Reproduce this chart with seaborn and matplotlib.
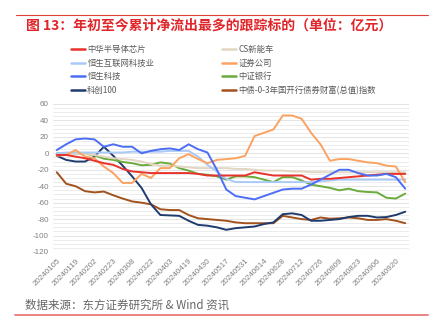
import numpy as np
import pandas as pd
import matplotlib
matplotlib.use("Agg")
import matplotlib.pyplot as plt
from matplotlib.lines import Line2D
import seaborn as sns

dates = ["20240105","20240112","20240119","20240126","20240202","20240208","20240223","20240301",
         "20240308","20240315","20240322","20240329","20240403","20240412","20240419","20240426",
         "20240430","20240510","20240517","20240524","20240531","20240607","20240614","20240621",
         "20240628","20240705","20240712","20240719","20240726","20240802","20240809","20240816",
         "20240823","20240830","20240906","20240913","20240920","20240927"]

names = ["中华半导体芯片", "恒生互联网科技业", "恒生科技", "科创100",
         "CS新能车", "证券公司", "中证银行", "中债-0-3年国开行债券财富(总值)指数"]

semi = [-2,-2,-4,-6,-9,-12,-14,-19,-22,-23,-24,-24,-24,-24,-24,-25,-27,
        -27,-27,-27,-27,-23,-25,-27,-27,-27,-27,-32,-31,-31,-30,-29,-28,-27,-26,-25,-25,-25]
hs_internet = [0,1,1,1,1,1,1,1,2,2,2,2,3,3,3,-4,-14,
               -22,-31,-35,-35,-35,-35,-35,-35,-35,-35,-35,-34,-33,-32,-32,-32,-32,-32,-32,-32,-32]
hs_tech = [4,11,17,18,17,8,11,8,8,0,3,5,6,4,11,5,1,
           -20,-44,-52,-54,-56,-52,-48,-44,-43,-43,-38,-32,-26,-20,-20,-24,-27,-27,-25,-29,-43]
kc100 = [-3,-8,-10,-10,-4,8,-3,-15,-28,-42,-62,-75,-75.5,-76,-82,-87,-88,
         -90,-93,-91,-90,-89,-86,-84,-74,-73,-75,-82,-82,-81,-80,-77.5,-76,-76,-78,-77.5,-75,-71]
cs_nev = [-1,-1,0,-1,-2,-4,-6,-7,-8,-10,-13,-15,-15,-16,-17,-18,-18,
          -18,-18,-19,-19,-20,-21,-21,-21,-22,-22,-23,-23,-23,-23,-23,-23,-23,-23,-23,-23,-23]
securities = [-3,-2,4,-4,-6,-16,-24,-36,-36,-25,-30,-18,-18,-6,-1,-7,-12,
              -8,-7,-6,-3,21,25,29,46,46,42,25,11,-9,-7,-7,-9,-11,-12,-15,-16,-35]
bank = [0,0,0,-0.5,-2.5,-6.5,-8,-10.5,-12,-14.5,-14,-11,-12.5,-18,-21,-25,-26,
        -28,-32,-28,-28,-29,-32,-35,-29,-29,-33,-38,-40,-42,-45,-43,-46,-47,-47.5,-54,-55,-49]
cdb_bond = [-23,-37,-40,-46,-47.5,-46.5,-51,-55,-58.5,-60,-62,-68,-69,-69,-75,-79,-80,
            -81,-82,-84,-85,-85,-85,-85,-76,-78,-80,-81,-78,-79.5,-79,-78,-79,-81,-81,-80,-82,-85]

series = [semi, hs_internet, hs_tech, kc100, cs_nev, securities, bank, cdb_bond]
colors = ["#e8322b", "#a9c9f7", "#4c6ef5", "#1f3b6e",
          "#e2d6c2", "#fba261", "#6aab3c", "#a1521d"]
palette = dict(zip(names, colors))

ytick_vals = list(range(-120, 61, 20))

rows = []
for n, vals in zip(names, series):
    for i, v in enumerate(vals):
        rows.append({"idx": i, "value": v, "name": n})
df = pd.DataFrame(rows)

sns.set_style("white")
plt.rcParams['font.family'] = ['Noto Sans CJK SC', 'DejaVu Sans']

fig = plt.figure(figsize=(4.32, 3.30), dpi=100)
ax = fig.add_axes([53/432, 1-252/330, (409-53)/432, (252-104)/330])

# gridlines
for v in range(-120, 61, 5):
    ax.axhline(v, color="#ececec" if v % 20 else "#e4e4e4", lw=0.7, zorder=0)

# draw order: bond/navy behind
draw_order = [names[7], names[3], names[6], names[4], names[1], names[5], names[0], names[2]]
sns.lineplot(data=df, x="idx", y="value", hue="name", hue_order=draw_order,
             palette=palette, lw=1.4, legend=False, ax=ax, estimator=None, sort=False)

ax.set_xlim(-0.4, len(dates) - 1 + 0.4)
ax.set_ylim(-120, 60)
ax.set_yticks(ytick_vals)
ax.set_yticklabels([str(v) for v in ytick_vals], fontsize=5.8, color="#7f7f7f",
                   family=['Liberation Sans', 'DejaVu Sans'])
xt = list(range(0, len(dates), 2))
ax.set_xticks(xt)
ax.set_xticklabels([dates[i] for i in xt], rotation=45, ha="right", rotation_mode="anchor",
                   fontsize=5.8, color="#7f7f7f", family=['Liberation Sans', 'DejaVu Sans'])
ax.tick_params(axis="both", length=0, pad=3)
ax.tick_params(axis="x", pad=4)
for s in ax.spines.values():
    s.set_visible(False)
ax.set_xlabel("")
ax.set_ylabel("")
ax.grid(False)

# legends (two columns placed separately)
def handles(ns):
    return [Line2D([0], [0], color=palette[n], lw=1.8) for n in ns]

leg_kw = dict(frameon=False, fontsize=6, handlelength=1.7, handletextpad=0.25,
              labelspacing=0.55, borderpad=0, borderaxespad=0, labelcolor="#595959")
l1 = fig.legend(handles(names[:4]), names[:4], loc="upper left",
                bbox_to_anchor=(71/432, 1-45/330), **leg_kw)
l2 = fig.legend(handles(names[4:]), names[4:], loc="upper left",
                bbox_to_anchor=(222/432, 1-45/330), **leg_kw)

# title and source
fig.text(26/432, 1-25/330, "图 13：年初至今累计净流出最多的跟踪标的（单位：亿元）",
         fontsize=10, color="#e0262a", fontweight="bold", va="center", ha="left")
fig.text(25/432, 1-305/330, "数据来源：东方证券研究所 & Wind 资讯",
         fontsize=8.3, color="#666666", va="center", ha="left")
fig.add_artist(Line2D([16/432, 428/432], [1-15/330, 1-15/330], color="#e0403a", lw=0.8,
                      transform=fig.transFigure))
fig.add_artist(Line2D([15/432, 428/432], [1-315/330, 1-315/330], color="#e87a76", lw=1.3,
                      transform=fig.transFigure))

fig.savefig("out.png", dpi=100)
